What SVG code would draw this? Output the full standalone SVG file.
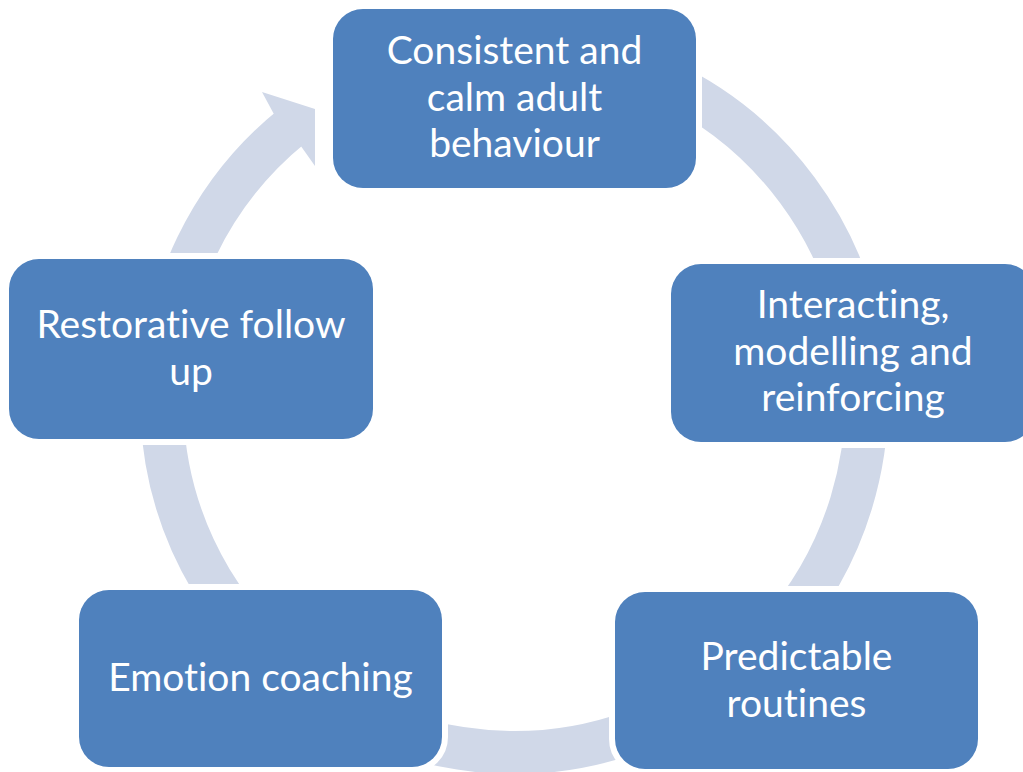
<svg xmlns="http://www.w3.org/2000/svg" width="1023" height="772" viewBox="0 0 1023 772">
  <style>
    .ring { fill: none; stroke: #D0D8E8; stroke-width: 43; }
    .head { fill: #D0D8E8; }
    .box { fill: #4F81BD; stroke: #FFFFFF; stroke-width: 12; paint-order: stroke; }
    .label { fill: #FFFFFF; font-family: Lato, "Liberation Sans", sans-serif; font-size: 39px; text-anchor: middle; font-variant-ligatures: none; font-feature-settings: "liga" 0; }
  </style>
  <rect width="1023" height="772" fill="#FFFFFF"/>

  <!-- circular flow band behind the steps, ending in an arrowhead at upper left -->
  <g id="connectors">
    <path class="ring" d="M 514 47.5 A 352.5 352.5 0 1 1 292.2 126.1"/>
    <polygon class="head" points="273.6,113.5 262,92 315,109 315,166 301.2,146.4"/>
  </g>

  <g id="node-consistent">
    <rect class="box" x="333" y="9" width="363" height="179" rx="30"/>
    <text class="label" x="514.5" y="64">Consistent and</text>
    <text class="label" x="514.5" y="110.5">calm adult</text>
    <text class="label" x="514.5" y="157">behaviour</text>
  </g>

  <g id="node-interacting">
    <rect class="box" x="671" y="264" width="364" height="178" rx="30"/>
    <text class="label" x="853" y="318">Interacting,</text>
    <text class="label" x="853" y="364.5">modelling and</text>
    <text class="label" x="853" y="411">reinforcing</text>
  </g>

  <g id="node-routines">
    <rect class="box" x="615" y="592" width="363" height="177" rx="30"/>
    <text class="label" x="796.5" y="670">Predictable</text>
    <text class="label" x="796.5" y="716.5">routines</text>
  </g>

  <g id="node-emotion">
    <rect class="box" x="79" y="590" width="363" height="177" rx="30"/>
    <text class="label" x="260.5" y="691">Emotion coaching</text>
  </g>

  <g id="node-restorative">
    <rect class="box" x="9" y="259" width="364" height="180" rx="30"/>
    <text class="label" x="191" y="338">Restorative follow</text>
    <text class="label" x="191" y="384.5">up</text>
  </g>
</svg>
